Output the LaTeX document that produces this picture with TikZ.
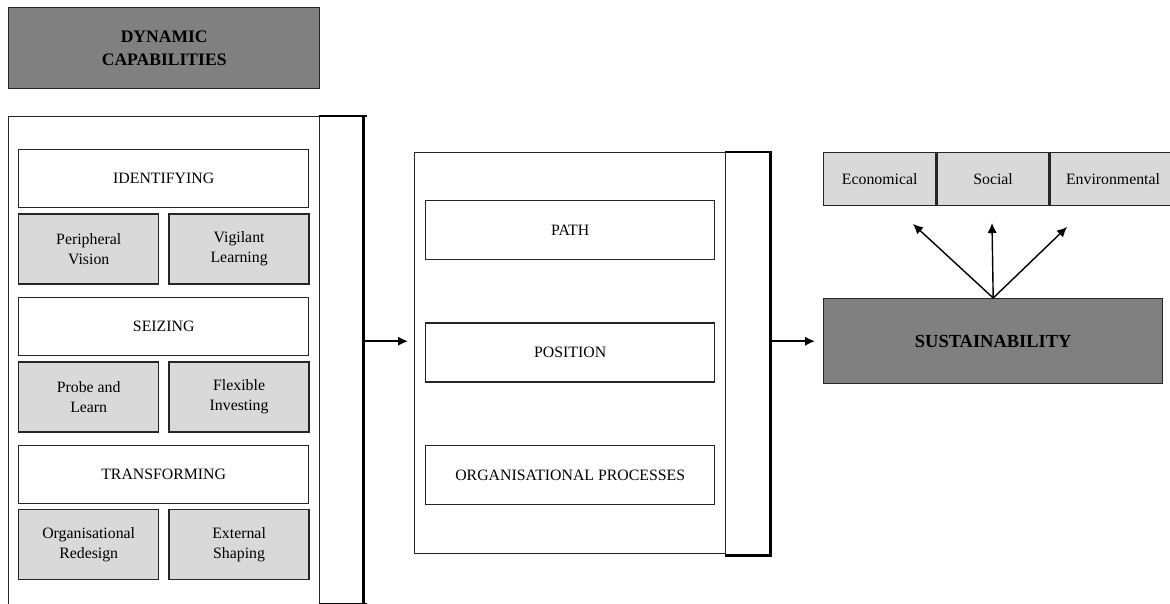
\documentclass[tikz,border=0pt]{standalone}
\usepackage{fontspec}
\setmainfont{Liberation Serif}
\usetikzlibrary{positioning}
\usetikzlibrary{arrows.meta}

\definecolor{boxdark}{gray}{0.5}
\definecolor{boxlight}{gray}{0.85}

\begin{document}
\begin{tikzpicture}[x=0.2mm, y=-0.2mm, font=\fontsize{9}{11.4}\selectfont,
    frame/.style={draw=black!85, line width=0.8pt, inner sep=0pt},
    head/.style={frame, minimum width=58mm, minimum height=11.6mm},
    sub/.style={frame, fill=boxlight, minimum width=28mm, minimum height=14mm, align=center},
    key/.style={frame, fill=boxdark, align=center, font=\fontsize{10}{13}\selectfont\bfseries},
    bracket/.style={line width=1.6pt},
    arr/.style={-{Latex[length=2mm, width=1.9mm]}, line width=0.8pt}]
            \useasboundingbox (0,0) rectangle (1170,604);

            % dynamic capabilities
            \node (dc) [key, anchor=north west, minimum width=62.2mm, minimum height=16.2mm] at (8,7) {DYNAMIC\\CAPABILITIES};
            \node (dcbox) [frame, anchor=north west, minimum width=62.2mm, minimum height=99mm] at (8,116) {};
            \node (dccol) [frame, anchor=north west, minimum width=8.6mm, minimum height=97.4mm] at (319,116) {};
            \draw[bracket] (dccol.north west) -- ([xshift=0.8mm]dccol.north east);
            \draw[bracket] (dccol.north east) -- (dccol.south east);
            \draw[bracket] (dccol.south west) -- ([xshift=0.8mm]dccol.south east);

            \node (ident) [head, below right=6.6mm and 2mm of dcbox.north west] {IDENTIFYING};
            \node (pv) [sub, below right=1mm and 0mm of ident.south west] {Peripheral\\Vision};
            \node (vl) [sub, right=1.8mm of pv] {Vigilant\\Learning};
            \node (seiz) [head, below right=2.4mm and 0mm of pv.south west] {SEIZING};
            \node (pl) [sub, below right=1mm and 0mm of seiz.south west] {Probe and\\Learn};
            \node (fi) [sub, right=1.8mm of pl] {Flexible\\Investing};
            \node (trans) [head, below right=2.4mm and 0mm of pl.south west] {TRANSFORMING};
            \node (or) [sub, below right=1mm and 0mm of trans.south west] {Organisational\\Redesign};
            \node (es) [sub, right=1.8mm of or] {External\\Shaping};

            % path, position, processes
            \node (pp) [frame, anchor=north west, minimum width=62.2mm, minimum height=80.2mm] at (414,152) {};
            \node (ppcol) [frame, anchor=north west, minimum width=8.8mm, minimum height=80.4mm] at (725,152) {};
            \draw[bracket] (ppcol.north west) -- (ppcol.north east) -- (ppcol.south east) -- (ppcol.south west);

            \node (path) [head, minimum width=57.8mm, minimum height=11.8mm, below right=9.6mm and 2.2mm of pp.north west] {PATH};
            \node (pos) [head, minimum width=57.8mm, minimum height=11.8mm, below=12.4mm of path] {POSITION};
            \node (proc) [head, minimum width=57.8mm, minimum height=11.8mm, below=12.4mm of pos] {ORGANISATIONAL PROCESSES};

            % sustainability
            \node (sust) [key, anchor=north west, minimum width=67.8mm, minimum height=17mm, font=\fontsize{10.5}{13}\selectfont\bfseries] at (823,298) {SUSTAINABILITY};
            \node (eco) [sub, anchor=north west, minimum width=22.4mm, minimum height=10.6mm] at (823,152) {Economical};
            \node (soc) [sub, right=0mm of eco, minimum width=22.4mm, minimum height=10.6mm] {Social};
            \node (env) [sub, right=0mm of soc, minimum width=25mm, minimum height=10.6mm] {Environmental};

            \coordinate (ecotip) at (913,224);
            \coordinate (soctip) at (992,223);
            \coordinate (envtip) at (1067,227);

            \draw[arr, line width=1.1pt, shorten >=1.2mm] (dccol.east |- sust.west) -- (pp.west |- sust.west);
            \draw[arr, line width=1.1pt, shorten >=1.6mm] (ppcol.east |- sust.west) -- (sust.west);
            \draw[arr] (sust.north) -- (ecotip);
            \draw[arr] (sust.north) -- (soctip);
            \draw[arr] (sust.north) -- (envtip);

            \end{tikzpicture}
\end{document}
